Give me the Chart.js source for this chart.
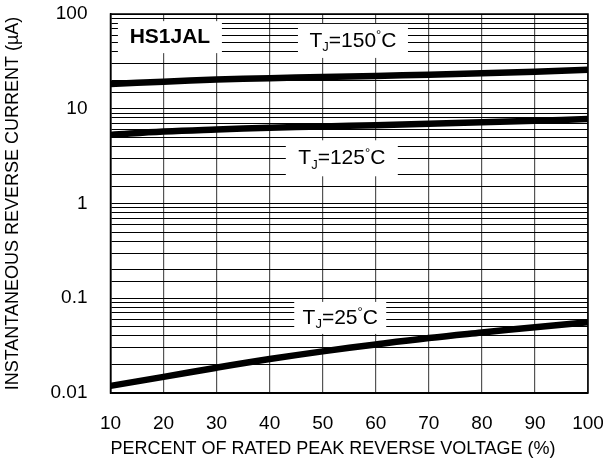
<!DOCTYPE html>
<html>
<head>
<meta charset="utf-8">
<script src="https://cdn.jsdelivr.net/npm/chart.js@4/dist/chart.umd.min.js"></script>
<style>
  html, body { margin: 0; padding: 0; background: #fff; }
  #wrap { width: 603px; height: 472px; }
</style>
</head>
<body>
<div id="wrap"><canvas id="chart" width="603" height="472"></canvas></div>
<script>
// percent of rated peak reverse voltage
var voltPct = [10, 20, 30, 40, 50, 60, 70, 80, 90, 100];
// reverse current (uA)
var tj150 = [18.3, 19.3, 20.3, 21.0, 21.6, 22.2, 22.9, 23.7, 24.6, 25.8];
var tj125 = [5.3, 5.75, 6.05, 6.3, 6.5, 6.7, 6.95, 7.2, 7.45, 7.8];
var tj25 = [0.0119, 0.0148, 0.0185, 0.0228, 0.0275, 0.0325, 0.038, 0.0435, 0.0495, 0.0557];
var xTicks = [10, 20, 30, 40, 50, 60, 70, 80, 90, 100];
var yTickLabels = ['0.01', '0.1', '1', '10', '100'];

// text boxes inside the plot: [x, y] in data units
var notes = [
  { text: 'HS1JAL', bold: true, x: 21.2, y: 57, w: 104, h: 32 },
  { t: '150', x: 55.7, y: 52, w: 110, h: 34 },
  { t: '125', x: 53.6, y: 3.0, w: 112, h: 36 },
  { t: '25', x: 53.3, y: 0.062, w: 92, h: 32 }
];

var FONT = '"Liberation Sans", Arial, Helvetica, sans-serif';

function toPts(vals) {
  return vals.map(function (v, i) { return { x: voltPct[i], y: v }; });
}

function isDecade(v) {
  var l = Math.log10(v);
  return Math.abs(l - Math.round(l)) < 1e-6;
}

var notesPlugin = {
  id: 'notes',
  beforeDatasetsDraw: function (chart) {
    var ctx = chart.ctx, xs = chart.scales.x, ys = chart.scales.y;
    ctx.save();
    notes.forEach(function (n) {
      var cx = xs.getPixelForValue(n.x), cy = ys.getPixelForValue(n.y);
      ctx.fillStyle = '#fff';
      ctx.fillRect(cx - n.w / 2, cy - n.h / 2, n.w, n.h);
      ctx.fillStyle = '#000';
      ctx.textBaseline = 'middle';
      if (n.text) {
        ctx.font = 'bold 21px ' + FONT;
        ctx.textAlign = 'center';
        ctx.fillText(n.text, cx, cy);
        return;
      }
      // T_J=xxx°C
      var big = '21px ' + FONT, small = '13px ' + FONT;
      var parts = [
        { s: 'T', f: big, dy: 0 },
        { s: 'J', f: small, dy: 7 },
        { s: '=' + n.t, f: big, dy: 0 },
        { s: '\u00B0', f: small, dy: -5 },
        { s: 'C', f: big, dy: 0 }
      ];
      var total = 0;
      parts.forEach(function (p) { ctx.font = p.f; p.w = ctx.measureText(p.s).width; total += p.w; });
      var px = cx - total / 2;
      ctx.textAlign = 'left';
      parts.forEach(function (p) {
        ctx.font = p.f;
        ctx.fillText(p.s, px, cy + p.dy);
        px += p.w;
      });
    });
    ctx.restore();
  },
  afterDraw: function (chart) {
    var a = chart.chartArea, ctx = chart.ctx;
    ctx.save();
    ctx.strokeStyle = '#000';
    ctx.lineWidth = 1.5;
    ctx.strokeRect(a.left, a.top, a.right - a.left, a.bottom - a.top);
    ctx.restore();
  }
};

function lineSet(label, vals) {
  return {
    label: label,
    data: toPts(vals),
    borderColor: '#000',
    borderWidth: 6.5,
    pointRadius: 0,
    tension: 0.4,
    fill: false
  };
}

new Chart(document.getElementById('chart'), {
  type: 'line',
  data: {
    datasets: [
      lineSet('TJ=150°C', tj150),
      lineSet('TJ=125°C', tj125),
      lineSet('TJ=25°C', tj25)
    ]
  },
  options: {
    responsive: false,
    animation: false,
    layout: { padding: { left: 0, right: 15, top: 14, bottom: 0 } },
    plugins: { legend: { display: false }, tooltip: { enabled: false } },
    scales: {
      x: {
        type: 'linear',
        min: 10,
        max: 100,
        afterBuildTicks: function (s) { s.ticks = xTicks.map(function (v) { return { value: v }; }); },
        afterFit: function (s) { s.height = 79; s.paddingLeft = 0; s.paddingRight = 0; },
        grid: { color: '#555', lineWidth: 1.2, drawTicks: false },
        border: { color: '#000', width: 1.5 },
        ticks: { color: '#000', padding: 19, font: { family: FONT, size: 19 }, maxRotation: 0 },
        title: {
          display: true,
          align: 'start',
          text: 'PERCENT OF RATED PEAK REVERSE VOLTAGE (%)',
          color: '#000',
          font: { family: FONT, size: 18 },
          padding: { top: 0, bottom: 12 }
        }
      },
      y: {
        type: 'logarithmic',
        min: 0.01,
        max: 100,
        afterFit: function (s) { s.width = 110.5; s.paddingTop = 0; s.paddingBottom = 0; },
        grid: { color: '#000', lineWidth: 1, drawTicks: false },
        border: { color: '#000', width: 1.5 },
        ticks: {
          autoSkip: false,
          color: '#000',
          padding: 23,
          font: { family: FONT, size: 19 },
          callback: function (v) {
            if (!isDecade(v)) return '';
            return yTickLabels[Math.round(Math.log10(v)) + 2];
          }
        },
        title: {
          display: true,
          text: 'INSTANTANEOUS REVERSE CURRENT (\u00B5A)',
          color: '#000',
          font: { family: FONT, size: 18 },
          padding: { top: 2, bottom: 0 }
        }
      }
    }
  },
  plugins: [notesPlugin]
});
</script>
</body>
</html>
